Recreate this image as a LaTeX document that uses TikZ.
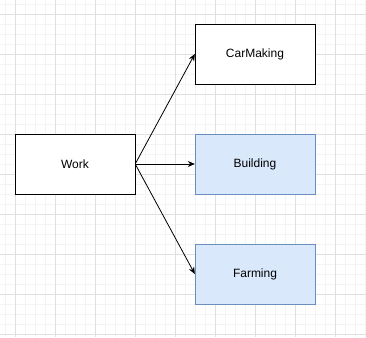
\documentclass[tikz,border=0pt]{standalone}
\usepackage{fontspec}
\setmainfont{Liberation Sans}
\usetikzlibrary{arrows.meta}

\definecolor{gridminor}{HTML}{F3F3F3}
\definecolor{gridmajor}{HTML}{E0E0E0}
\definecolor{blueFill}{HTML}{DAE8FC}
\definecolor{blueLine}{HTML}{6C8EBF}

\tikzset{
  box/.style={draw=black, fill=white, minimum width=120pt, minimum height=60pt,
    inner sep=0pt, font=\fontsize{12}{14}\selectfont},
  bluebox/.style={box, draw=blueLine, fill=blueFill},
  link/.style={-{Stealth[length=7pt,width=6pt]}, line width=0.8pt}
}

\begin{document}
\begin{tikzpicture}[x=1pt,y=-1pt]
  \useasboundingbox (0,0) rectangle (366,337);
  \fill[white] (0,0) rectangle (366,337);
  % grid
  \foreach \x in {5,15,...,365} \draw[gridminor, line width=0.6pt] (\x,0) -- (\x,337);
  \foreach \y in {4,14,...,334} \draw[gridminor, line width=0.6pt] (0,\y) -- (366,\y);
  \foreach \x in {15,55,...,365} \draw[gridmajor, line width=0.6pt] (\x,0) -- (\x,337);
  \foreach \y in {14,54,...,334} \draw[gridmajor, line width=0.6pt] (0,\y) -- (366,\y);
  % boxes
  \node[box] (work) at (75,164) {Work};
  \node[box] (car) at (255,54) {CarMaking};
  \node[bluebox] (build) at (255,164) {Building};
  \node[bluebox] (farm) at (255,274) {Farming};
  % links
  \draw[link] (work.east) -- (car.west);
  \draw[link] (work.east) -- (build.west);
  \draw[link] (work.east) -- (farm.west);
\end{tikzpicture}
\end{document}
